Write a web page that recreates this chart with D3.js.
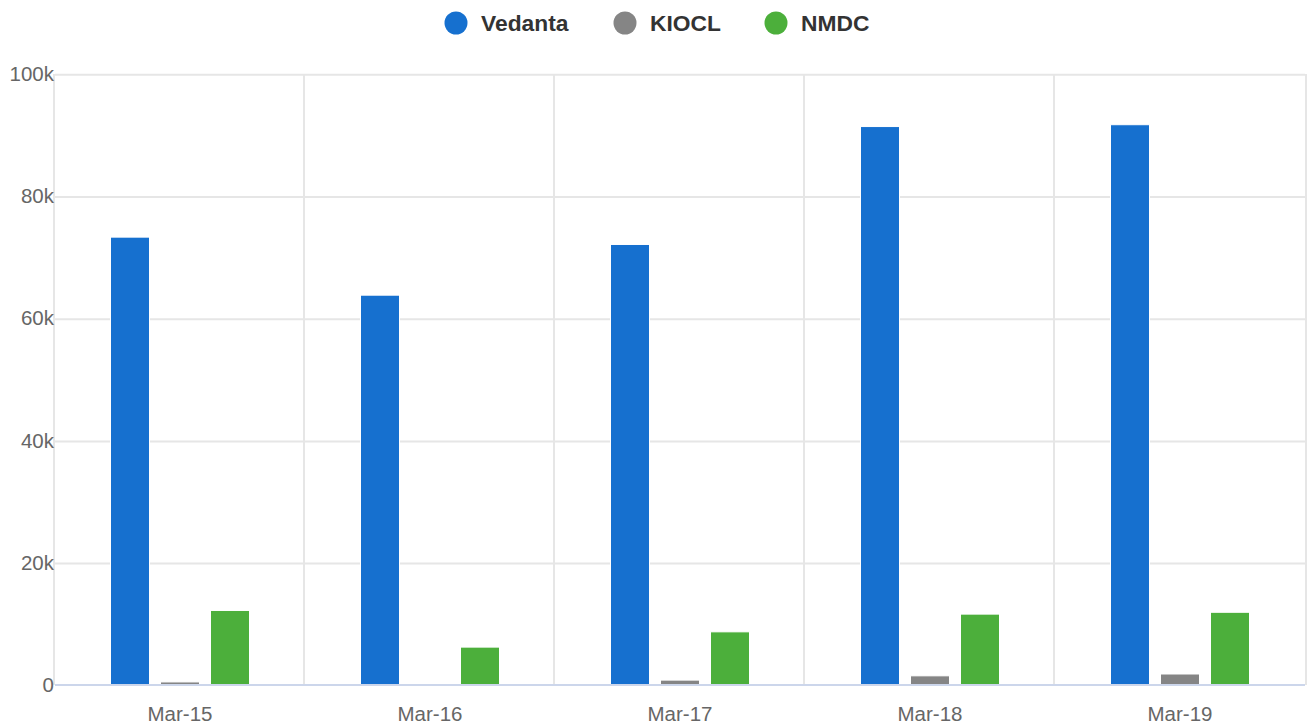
<!DOCTYPE html>
<html><head><meta charset="utf-8">
<script src="https://cdn.jsdelivr.net/npm/d3@7"></script>
<style>body{margin:0;background:#fff;font-family:"Liberation Sans",Arial,sans-serif}</style>
</head><body><svg id="c" width="1308" height="724"></svg>
<script>
const categories = ["Mar-15","Mar-16","Mar-17","Mar-18","Mar-19"];
const seriesNames = ["Vedanta","KIOCL","NMDC"];
const seriesColors = ["#1670cf","#858585","#4caf3b"];
const vedanta = [73300, 63800, 72100, 91400, 91700];
const kiocl = [500, 0, 800, 1500, 1800];
const nmdc = [12200, 6200, 8700, 11600, 11900];
const yTicks = [0,20000,40000,60000,80000,100000];
const yTickLabels = ["0","20k","40k","60k","80k","100k"];

const values = [vedanta, kiocl, nmdc];
const svg = d3.select("#c");
const L = 55, R = 1305, T = 74, B = 685;
const x = d3.scaleBand().domain(categories).range([L, R]).padding(0);
const xi = d3.scaleBand().domain(seriesNames).range([0, x.bandwidth()]).paddingInner(0.22).paddingOuter(1.11);
const y = d3.scaleLinear().domain([0, 100000]).range([B, T]);

// horizontal grid
svg.append("g").selectAll("line").data(yTicks.slice(1)).join("line")
  .attr("x1", L).attr("x2", R).attr("y1", d => y(d) + 0.8).attr("y2", d => y(d) + 0.8)
  .attr("stroke", "#e6e6e6").attr("stroke-width", 2);
// vertical grid at category boundaries
const bounds = categories.map(c => x(c)).concat([R]);
svg.append("g").selectAll("line").data(bounds).join("line")
  .attr("x1", d => d - 1 + (d === R ? 2 : 0)).attr("x2", d => d - 1 + (d === R ? 2 : 0)).attr("y1", T).attr("y2", B)
  .attr("stroke", "#e6e6e6").attr("stroke-width", 2);

// bars
const g = svg.append("g");
categories.forEach((c, ci) => {
  seriesNames.forEach((s, si) => {
    const v = values[si][ci];
    g.append("rect")
      .attr("x", x(c) + xi(s))
      .attr("y", y(v))
      .attr("width", xi.bandwidth())
      .attr("height", Math.max(0, y(0) - y(v)))
      .attr("fill", seriesColors[si])
      .attr("stroke", "#ffffff").attr("stroke-width", 1);
  });
});

// x axis line
svg.append("line").attr("x1", L).attr("x2", R).attr("y1", B).attr("y2", B)
  .attr("stroke", "#ccd6eb").attr("stroke-width", 2);

// y labels
svg.append("g").selectAll("text").data(yTicks).join("text")
  .attr("x", 54).attr("y", d => y(d) + 7)
  .attr("text-anchor", "end").attr("fill", "#666666").attr("font-size", "20.5px")
  .text((d, i) => yTickLabels[i]);

// x labels
svg.append("g").selectAll("text").data(categories).join("text")
  .attr("x", d => x(d) + x.bandwidth() / 2).attr("y", 721)
  .attr("text-anchor", "middle").attr("fill", "#666666").attr("font-size", "20.5px")
  .text(d => d);

// legend
const legX = [456, 625, 776];
const lg = svg.append("g");
seriesNames.forEach((s, i) => {
  lg.append("circle").attr("cx", legX[i]).attr("cy", 23).attr("r", 11.5).attr("fill", seriesColors[i]);
  lg.append("text").attr("x", legX[i] + 25).attr("y", 31).attr("fill", "#333333")
    .attr("font-size", "22.8px").attr("font-weight", "bold").text(s);
});
</script></body></html>
